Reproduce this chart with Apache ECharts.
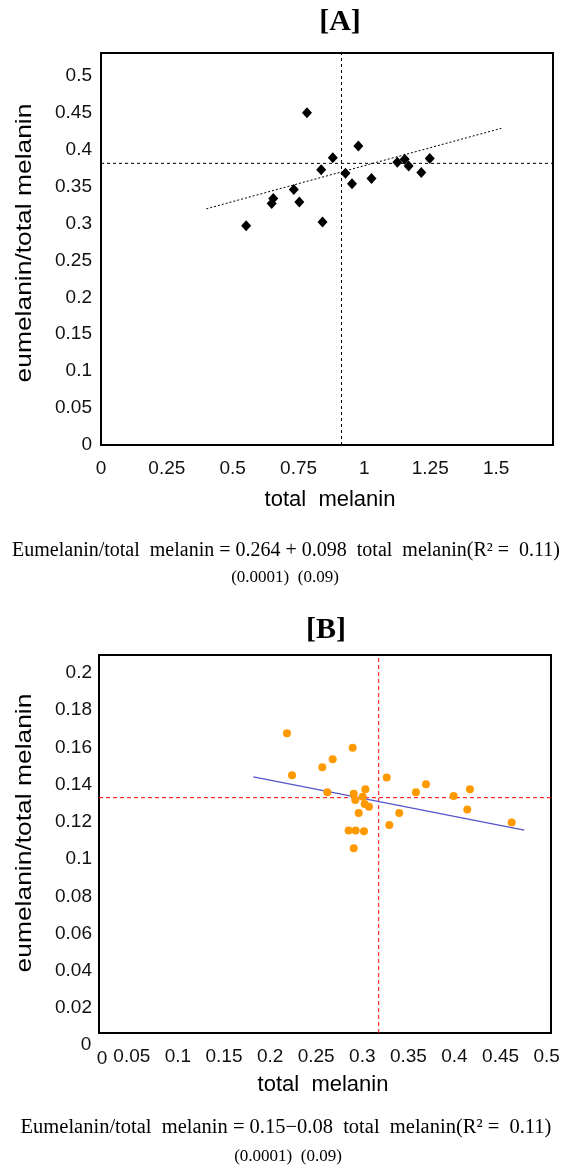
<!DOCTYPE html>
<html><head><meta charset="utf-8">
<script src="https://cdn.jsdelivr.net/npm/echarts@6/dist/echarts.min.js"></script>
<style>html,body{margin:0;padding:0;background:#fff}#c{width:571px;height:1171px}</style>
</head><body><div id="c"></div>
<script>
// Panel A data
const xA = [0.551,0.782,0.654,0.648,0.732,0.753,0.836,0.841,0.880,0.928,0.953,0.977,1.027,1.125,1.153,1.168,1.216,1.248];
const yA = [0.297,0.450,0.334,0.327,0.346,0.329,0.373,0.302,0.389,0.368,0.354,0.405,0.361,0.383,0.387,0.378,0.369,0.388];
const meanA = [0.913, 0.3815];
const fitA = [[0.40, 0.320], [1.52, 0.429]];
const xTicksA = [0,0.25,0.5,0.75,1,1.25,1.5];
const yTicksA = [0,0.05,0.1,0.15,0.2,0.25,0.3,0.35,0.4,0.45,0.5];
// Panel B data
const xB = [0.2183,0.2238,0.2566,0.2679,0.2896,0.2621,0.2907,0.3033,0.3004,0.2924,0.3026,0.3073,0.2961,0.2852,0.2928,0.3018,0.2907,0.3265,0.3293,0.3401,0.3582,0.3691,0.3991,0.4168,0.4139,0.4620];
const yB = [0.1677,0.1450,0.1493,0.1536,0.1598,0.1359,0.1351,0.1375,0.1335,0.1317,0.1296,0.1281,0.1247,0.1154,0.1154,0.1149,0.1058,0.1439,0.1183,0.1247,0.1359,0.1402,0.1339,0.1375,0.1267,0.1197];
const meanB = [0.3178, 0.133];
const fitB = [[0.1818, 0.1442], [0.4757, 0.1156]];
const xTicksB = [0.05,0.1,0.15,0.2,0.25,0.3,0.35,0.4,0.45,0.5];
const yTicksB = [0.02,0.04,0.06,0.08,0.1,0.12,0.14,0.16,0.18,0.2];

const rangeA = {x:[0,1.716], y:[0,0.531]};
const rangeB = {x:[0.0144,0.5047], y:[0.0065,0.2097]};

const fmt = v => String(parseFloat(Number(v).toFixed(4)));
const SANS = 'Liberation Sans';
function axisCommon(gi, range, ticks, margin){
  return {type:'value', gridIndex:gi, min:range[0], max:range[1],
    axisLine:{show:false}, axisTick:{show:false}, splitLine:{show:false},
    axisLabel:{customValues:ticks, formatter:fmt, fontSize:19, color:'#111', fontFamily:SANS, margin:margin}};
}
const pts = (xs, ys) => xs.map((x,i)=>[x, ys[i]]);

const option = {
  animation:false, backgroundColor:'#fff',
  grid:[
    {left:101, top:53, width:452, height:392, show:true, borderColor:'#000', borderWidth:2, backgroundColor:'transparent'},
    {left:99, top:655, width:452, height:378, show:true, borderColor:'#000', borderWidth:2, backgroundColor:'transparent'}
  ],
  xAxis:[axisCommon(0, rangeA.x, xTicksA, 14), axisCommon(1, rangeB.x, xTicksB, 14)],
  yAxis:[axisCommon(0, rangeA.y, yTicksA, 9), axisCommon(1, rangeB.y, yTicksB, 7)],
  series:[
    {type:'line', xAxisIndex:0, yAxisIndex:0, data:[[meanA[0], rangeA.y[0]],[meanA[0], rangeA.y[1]]], symbol:'none', lineStyle:{color:'#000', width:1, type:[3,3]}, z:2},
    {type:'line', xAxisIndex:0, yAxisIndex:0, data:[[rangeA.x[0], meanA[1]],[rangeA.x[1], meanA[1]]], symbol:'none', lineStyle:{color:'#000', width:1, type:[3,3]}, z:2},
    {type:'line', xAxisIndex:0, yAxisIndex:0, data:fitA, symbol:'none', lineStyle:{color:'#000', width:1, type:[2,2]}, z:2},
    {type:'scatter', xAxisIndex:0, yAxisIndex:0, data:pts(xA,yA), symbol:'diamond', symbolSize:[10,11], itemStyle:{color:'#000', opacity:1}, z:5},
    {type:'line', xAxisIndex:1, yAxisIndex:1, data:[[meanB[0], rangeB.y[0]],[meanB[0], rangeB.y[1]]], symbol:'none', lineStyle:{color:'#ff0000', width:1, type:[4,3]}, z:2},
    {type:'line', xAxisIndex:1, yAxisIndex:1, data:[[rangeB.x[0], meanB[1]],[rangeB.x[1], meanB[1]]], symbol:'none', lineStyle:{color:'#ff0000', width:1, type:[4,3]}, z:2},
    {type:'line', xAxisIndex:1, yAxisIndex:1, data:fitB, symbol:'none', lineStyle:{color:'#5555cc', width:1.3}, z:2},
    {type:'scatter', xAxisIndex:1, yAxisIndex:1, data:pts(xB,yB), symbol:'circle', symbolSize:8, itemStyle:{color:'#ff9900', opacity:1}, z:5}
  ],
  graphic:[
    {type:'text', x:340, y:22, style:{text:'[A]', font:'bold 30px "Liberation Serif"', fill:'#000', align:'center', verticalAlign:'middle'}},
    {type:'text', x:326, y:630, style:{text:'[B]', font:'bold 30px "Liberation Serif"', fill:'#000', align:'center', verticalAlign:'middle'}},
    {type:'text', x:25, y:243, rotation:Math.PI/2, scaleX:1.2, style:{text:'eumelanin/total melanin', font:'22px "Liberation Sans"', fill:'#000', align:'center', verticalAlign:'middle'}},
    {type:'text', x:25, y:833, rotation:Math.PI/2, scaleX:1.2, style:{text:'eumelanin/total melanin', font:'22px "Liberation Sans"', fill:'#000', align:'center', verticalAlign:'middle'}},
    {type:'text', x:330, y:500, style:{text:'total  melanin', font:'22px "Liberation Sans"', fill:'#000', align:'center', verticalAlign:'middle'}},
    {type:'text', x:323, y:1085, style:{text:'total  melanin', font:'22px "Liberation Sans"', fill:'#000', align:'center', verticalAlign:'middle'}},
    {type:'text', x:102, y:1059, style:{text:'0', font:'19px "Liberation Sans"', fill:'#111', align:'center', verticalAlign:'middle'}},
    {type:'text', x:86, y:1045, style:{text:'0', font:'19px "Liberation Sans"', fill:'#111', align:'center', verticalAlign:'middle'}},
    {type:'text', x:286, y:551, style:{text:'Eumelanin/total  melanin = 0.264 + 0.098  total  melanin(R\u00B2 =  0.11)', font:'20px "Liberation Serif"', fill:'#000', align:'center', verticalAlign:'middle'}},
    {type:'text', x:285, y:578, style:{text:'(0.0001)  (0.09)', font:'17px "Liberation Serif"', fill:'#000', align:'center', verticalAlign:'middle'}},
    {type:'text', x:286, y:1128, style:{text:'Eumelanin/total  melanin = 0.15\u22120.08  total  melanin(R\u00B2 =  0.11)', font:'20.5px "Liberation Serif"', fill:'#000', align:'center', verticalAlign:'middle'}},
    {type:'text', x:288, y:1157, style:{text:'(0.0001)  (0.09)', font:'17px "Liberation Serif"', fill:'#000', align:'center', verticalAlign:'middle'}}
  ]
};
const chart = echarts.init(document.getElementById('c'), null, {renderer:'canvas'});
chart.setOption(option);
</script></body></html>
